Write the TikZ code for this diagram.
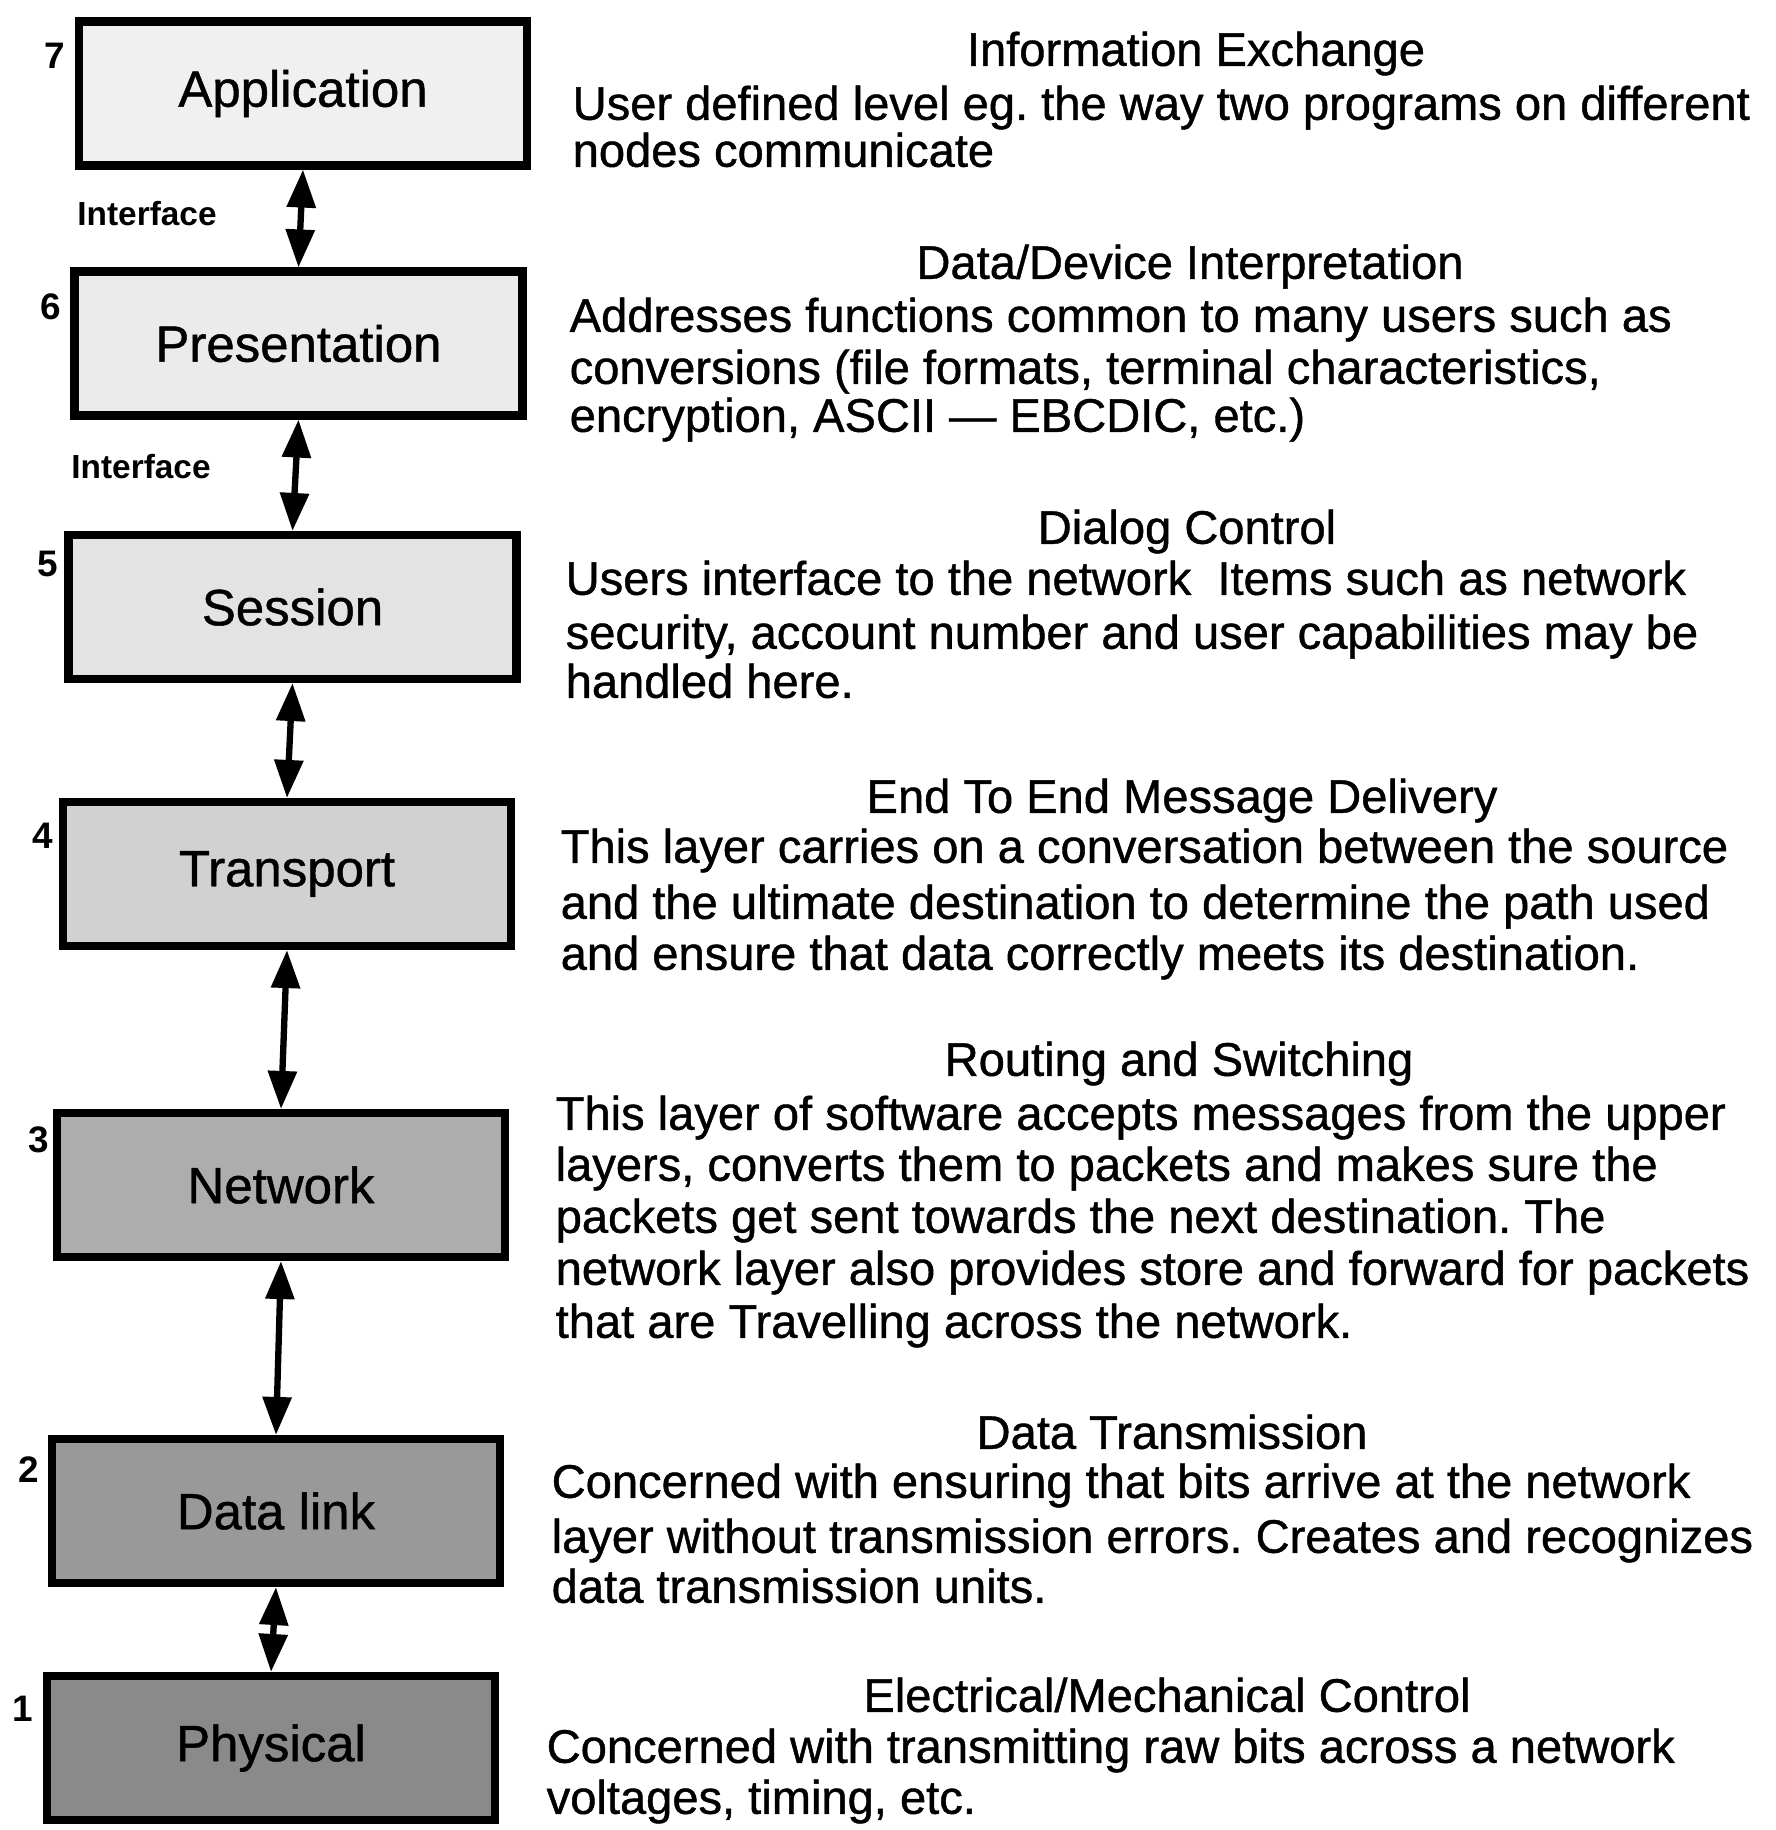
\documentclass[tikz,border=0pt]{standalone}
\usepackage{fontspec}
\setmainfont{Liberation Sans}
\newfontfamily\scanfont{Liberation Sans}[FakeBold=0.9]
\usetikzlibrary{arrows.meta}
\frenchspacing
\begin{document}
\begin{tikzpicture}[x=1cm,y=1cm,
  layerbox/.style={draw=black, line width=2.3pt, minimum width=4.48cm, minimum height=1.44cm, inner sep=0pt,
    font=\scanfont\fontsize{14.5}{16}\selectfont},
  layernum/.style={font=\bfseries\fontsize{10.5}{12}\selectfont, inner sep=0pt},
  iface/.style={font=\bfseries\fontsize{9.5}{11}\selectfont, inner sep=0pt},
  headtxt/.style={font=\scanfont\fontsize{13.4}{15}\selectfont, inner sep=0pt, text height=0.7em, text depth=0.2em},
  bodytxt/.style={font=\scanfont\fontsize{13.4}{15}\selectfont, inner sep=0pt, anchor=west, text height=0.7em, text depth=0.2em},
  biarrow/.style={line width=1.8pt, {Triangle[width=0.28cm,length=0.38cm]}-{Triangle[width=0.28cm,length=0.38cm]}}
]
\useasboundingbox (0,0) rectangle (17.76,-18.30);

% layer boxes
\node[layerbox, fill=black!6]  (L7) at (3.03,-0.935) {Application};
\node[layerbox, fill=black!8]  (L6) at (2.985,-3.435) {Presentation};
\node[layerbox, fill=black!11] (L5) at (2.925,-6.07) {Session};
\node[layerbox, fill=black!18] (L4) at (2.87,-8.74) {Transport};
\node[layerbox, fill=black!32] (L3) at (2.81,-11.85) {Network};
\node[layerbox, fill=black!40] (L2) at (2.76,-15.11) {Data link};
\node[layerbox, fill=black!46] (L1) at (2.71,-17.48) {Physical};

% layer numbers
\node[layernum] (n7) at (0.55,-0.56) {7};
\node[layernum] (n6) at (0.51,-3.07) {6};
\node[layernum] (n5) at (0.48,-5.64) {5};
\node[layernum] (n4) at (0.43,-8.36) {4};
\node[layernum] (n3) at (0.39,-11.40) {3};
\node[layernum] (n2) at (0.29,-14.70) {2};
\node[layernum] (n1) at (0.23,-17.09) {1};

% interface labels
\node[iface] (i1) at (1.47,-2.14) {Interface};
\node[iface] (i2) at (1.41,-4.67) {Interface};

% connectors
\draw[biarrow] (L7.south) -- (L6.north);
\draw[biarrow] (L6.south) -- (L5.north);
\draw[biarrow] (L5.south) -- (L4.north);
\draw[biarrow] (L4.south) -- (L3.north);
\draw[biarrow] (L3.south) -- (L2.north);
\draw[biarrow] (L2.south) -- (L1.north);

% layer 7 text
\node[headtxt] (h7) at (11.96,-0.57) {Information Exchange};
\node[bodytxt] (t7a) at (5.72,-1.11) {User defined level eg. the way two programs on different};
\node[bodytxt] (t7b) at (5.72,-1.58) {nodes communicate};

% layer 6 text
\node[headtxt] (h6) at (11.90,-2.70) {Data/Device Interpretation};
\node[bodytxt] (t6a) at (5.69,-3.23) {Addresses functions common to many users such as};
\node[bodytxt] (t6b) at (5.69,-3.75) {conversions (file formats, terminal characteristics,};
\node[bodytxt] (t6c) at (5.69,-4.23) {encryption, ASCII \textemdash\ EBCDIC, etc.)};

% layer 5 text
\node[headtxt] (h5) at (11.87,-5.35) {Dialog Control};
\node[bodytxt] (t5a) at (5.65,-5.86) {Users interface to the network\ \ Items such as network};
\node[bodytxt] (t5b) at (5.65,-6.40) {security, account number and user capabilities may be};
\node[bodytxt] (t5c) at (5.65,-6.89) {handled here.};

% layer 4 text
\node[headtxt] (h4) at (11.82,-8.04) {End To End Message Delivery};
\node[bodytxt] (t4a) at (5.60,-8.54) {This layer carries on a conversation between the source};
\node[bodytxt] (t4b) at (5.60,-9.10) {and the ultimate destination to determine the path used};
\node[bodytxt] (t4c) at (5.60,-9.61) {and ensure that data correctly meets its destination.};

% layer 3 text
\node[headtxt] (h3) at (11.79,-10.67) {Routing and Switching};
\node[bodytxt] (t3a) at (5.55,-11.21) {This layer of software accepts messages from the upper};
\node[bodytxt] (t3b) at (5.55,-11.72) {layers, converts them to packets and makes sure the};
\node[bodytxt] (t3c) at (5.55,-12.24) {packets get sent towards the next destination. The};
\node[bodytxt] (t3d) at (5.55,-12.76) {network layer also provides store and forward for packets};
\node[bodytxt] (t3e) at (5.55,-13.29) {that are Travelling across the network.};

% layer 2 text
\node[headtxt] (h2) at (11.72,-14.40) {Data Transmission};
\node[bodytxt] (t2a) at (5.51,-14.89) {Concerned with ensuring that bits arrive at the network};
\node[bodytxt] (t2b) at (5.51,-15.44) {layer without transmission errors. Creates and recognizes};
\node[bodytxt] (t2c) at (5.51,-15.94) {data transmission units.};

% layer 1 text
\node[headtxt] (h1) at (11.67,-17.03) {Electrical/Mechanical Control};
\node[bodytxt] (t1a) at (5.46,-17.54) {Concerned with transmitting raw bits across a network};
\node[bodytxt] (t1b) at (5.46,-18.05) {voltages, timing, etc.};
\end{tikzpicture}
\end{document}
